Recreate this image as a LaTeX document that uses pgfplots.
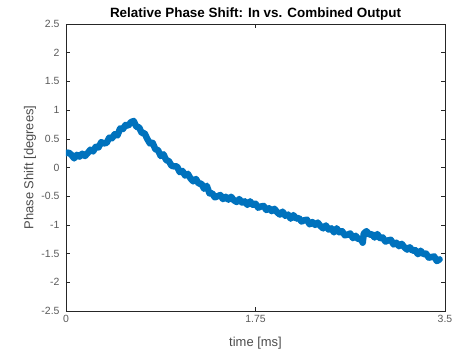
\documentclass[border=0pt]{standalone}
\usepackage{pgfplots}
\pgfplotsset{compat=1.18}
\usepackage{fontspec}
\setmainfont{Liberation Sans}
\definecolor{mblue}{RGB}{0,114,189}
\definecolor{mgray}{RGB}{38,38,38}
\begin{document}
\begin{tikzpicture}
\path[use as bounding box] (-66bp,-42bp) rectangle (398bp,311bp);
\begin{axis}[
  scale only axis,
  width=379bp, height=287bp,
  xmin=0, xmax=3.5, ymin=-2.5, ymax=2.5,
  xtick={0,1.75,3.5}, xticklabels={0,1.75,3.5},
  ytick={-2.5,-2,...,2.5},
  yticklabels={-2.5,-2,-1.5,-1,-0.5,0,0.5,1,1.5,2,2.5},
  tick align=inside, major tick length=4bp,
  tick style={mgray, line width=0.6bp},
  axis line style={mgray, line width=0.9bp},
  ticklabel style={font=\fontsize{10.5}{12}\selectfont, text=black!65},
  xticklabel style={yshift=-1bp},
  yticklabel style={xshift=-3bp},
  title={\bfseries Relative Phase Shift: In vs. Combined Output},
  title style={font=\fontsize{13.5}{15}\selectfont, at={(axis description cs:0.5,1.014)}, anchor=center},
  xlabel={time [ms]}, ylabel={Phase Shift [degrees]},
  label style={font=\fontsize{13}{15}\selectfont, text=black!70},
  xlabel style={at={(axis description cs:0.5,-0.1115)}, anchor=center},
  ylabel style={at={(axis description cs:-0.095,0.5)}, anchor=center},
]
\addplot[mblue, line width=6.5bp, line join=round, line cap=round] coordinates {
(0.000,0.25)(0.025,0.26)(0.050,0.22)(0.075,0.16)(0.100,0.22)(0.125,0.19)(0.150,0.24)(0.175,0.20)
(0.200,0.25)(0.225,0.31)(0.250,0.28)(0.275,0.36)(0.300,0.35)(0.325,0.44)(0.350,0.42)(0.375,0.43)
(0.400,0.52)(0.425,0.51)(0.450,0.58)(0.475,0.56)(0.500,0.68)(0.525,0.67)(0.550,0.74)(0.575,0.73)
(0.600,0.79)(0.625,0.81)(0.650,0.71)(0.675,0.70)(0.700,0.60)(0.725,0.60)(0.750,0.50)(0.775,0.42)
(0.800,0.43)(0.825,0.32)(0.850,0.30)(0.875,0.20)(0.900,0.23)(0.925,0.13)(0.950,0.11)(0.975,0.03)
(1.000,0.02)(1.025,0.02)(1.050,-0.08)(1.075,-0.06)(1.100,-0.14)(1.125,-0.11)(1.150,-0.19)(1.175,-0.24)
(1.200,-0.20)(1.225,-0.28)(1.250,-0.28)(1.275,-0.37)(1.300,-0.32)(1.325,-0.45)(1.350,-0.45)(1.375,-0.52)
(1.400,-0.50)(1.425,-0.48)(1.450,-0.55)(1.475,-0.51)(1.500,-0.56)(1.525,-0.51)(1.550,-0.57)(1.575,-0.60)
(1.600,-0.55)(1.625,-0.61)(1.650,-0.59)(1.675,-0.65)(1.700,-0.59)(1.725,-0.65)(1.750,-0.63)(1.775,-0.70)
(1.800,-0.68)(1.825,-0.67)(1.850,-0.74)(1.875,-0.71)(1.900,-0.76)(1.925,-0.72)(1.950,-0.78)(1.975,-0.82)
(2.000,-0.77)(2.025,-0.84)(2.050,-0.82)(2.075,-0.89)(2.100,-0.83)(2.125,-0.89)(2.150,-0.88)(2.175,-0.94)
(2.200,-0.92)(2.225,-0.91)(2.250,-0.99)(2.275,-0.95)(2.300,-1.00)(2.325,-0.96)(2.350,-1.02)(2.375,-1.06)
(2.400,-1.01)(2.425,-1.08)(2.450,-1.06)(2.475,-1.13)(2.500,-1.06)(2.525,-1.13)(2.550,-1.11)(2.575,-1.18)
(2.600,-1.17)(2.625,-1.15)(2.650,-1.23)(2.675,-1.19)(2.700,-1.25)(2.725,-1.24)(2.740,-1.31)(2.750,-1.15)
(2.775,-1.11)(2.800,-1.17)(2.825,-1.16)(2.850,-1.22)(2.875,-1.16)(2.900,-1.23)(2.925,-1.22)(2.950,-1.29)
(2.975,-1.27)(3.000,-1.26)(3.025,-1.34)(3.050,-1.31)(3.075,-1.37)(3.100,-1.33)(3.125,-1.39)(3.150,-1.43)
(3.175,-1.39)(3.200,-1.45)(3.225,-1.44)(3.250,-1.51)(3.275,-1.45)(3.300,-1.51)(3.325,-1.50)(3.350,-1.57)
(3.375,-1.56)(3.400,-1.55)(3.425,-1.63)(3.450,-1.60)
};
\end{axis}
\end{tikzpicture}
\end{document}
